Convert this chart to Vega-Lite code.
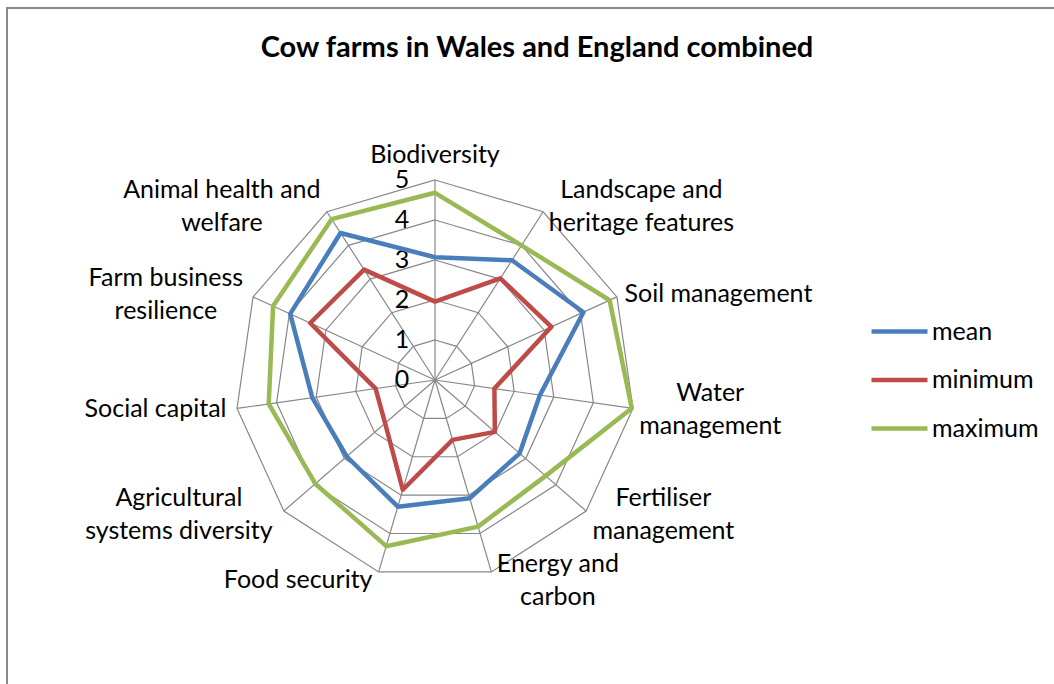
{
  "$schema": "https://vega.github.io/schema/vega-lite/v6.json",
  "autosize": "none",
  "width": 1060,
  "height": 690,
  "padding": {"left": 7, "top": 8, "right": 0, "bottom": 0},
  "background": "white",
  "config": {
    "view": {"stroke": "#8a8a8a", "strokeWidth": 2},
    "font": "Lato"
  },
  "title": {
    "text": "Cow farms in Wales and England combined",
    "font": "Lato",
    "fontSize": 29,
    "fontWeight": "bold",
    "color": "black",
    "anchor": "middle",
    "offset": -55
  },
  "datasets": {
    "series": [
      {"idx": 0, "cat": "Biodiversity", "series": "mean", "value": 3.07},
      {"idx": 1, "cat": "Landscape and heritage features", "series": "mean", "value": 3.56},
      {"idx": 2, "cat": "Soil management", "series": "mean", "value": 4.08},
      {"idx": 3, "cat": "Water management", "series": "mean", "value": 2.65},
      {"idx": 4, "cat": "Fertiliser management", "series": "mean", "value": 2.8},
      {"idx": 5, "cat": "Energy and carbon", "series": "mean", "value": 3.08},
      {"idx": 6, "cat": "Food security", "series": "mean", "value": 3.3},
      {"idx": 7, "cat": "Agricultural systems diversity", "series": "mean", "value": 2.92},
      {"idx": 8, "cat": "Social capital", "series": "mean", "value": 3.1},
      {"idx": 9, "cat": "Farm business resilience", "series": "mean", "value": 3.98},
      {"idx": 10, "cat": "Animal health and welfare", "series": "mean", "value": 4.37},
      {"idx": 0, "cat": "Biodiversity", "series": "minimum", "value": 1.96},
      {"idx": 1, "cat": "Landscape and heritage features", "series": "minimum", "value": 3.02},
      {"idx": 2, "cat": "Soil management", "series": "minimum", "value": 3.2},
      {"idx": 3, "cat": "Water management", "series": "minimum", "value": 1.5},
      {"idx": 4, "cat": "Fertiliser management", "series": "minimum", "value": 1.98},
      {"idx": 5, "cat": "Energy and carbon", "series": "minimum", "value": 1.56},
      {"idx": 6, "cat": "Food security", "series": "minimum", "value": 2.86},
      {"idx": 7, "cat": "Agricultural systems diversity", "series": "minimum", "value": 1.65},
      {"idx": 8, "cat": "Social capital", "series": "minimum", "value": 1.5},
      {"idx": 9, "cat": "Farm business resilience", "series": "minimum", "value": 3.43},
      {"idx": 10, "cat": "Animal health and welfare", "series": "minimum", "value": 3.28},
      {"idx": 0, "cat": "Biodiversity", "series": "maximum", "value": 4.68},
      {"idx": 1, "cat": "Landscape and heritage features", "series": "maximum", "value": 4.0},
      {"idx": 2, "cat": "Soil management", "series": "maximum", "value": 4.8},
      {"idx": 3, "cat": "Water management", "series": "maximum", "value": 4.97},
      {"idx": 4, "cat": "Fertiliser management", "series": "maximum", "value": 3.66},
      {"idx": 5, "cat": "Energy and carbon", "series": "maximum", "value": 3.82},
      {"idx": 6, "cat": "Food security", "series": "maximum", "value": 4.33},
      {"idx": 7, "cat": "Agricultural systems diversity", "series": "maximum", "value": 3.96},
      {"idx": 8, "cat": "Social capital", "series": "maximum", "value": 4.2},
      {"idx": 9, "cat": "Farm business resilience", "series": "maximum", "value": 4.45},
      {"idx": 10, "cat": "Animal health and welfare", "series": "maximum", "value": 4.78}
    ],
    "cats": [
      {"idx": 0, "label": ["Biodiversity"]},
      {"idx": 1, "label": ["Landscape and", "heritage features"]},
      {"idx": 2, "label": ["Soil management"]},
      {"idx": 3, "label": ["Water", "management"]},
      {"idx": 4, "label": ["Fertiliser", "management"]},
      {"idx": 5, "label": ["Energy and", "carbon"]},
      {"idx": 6, "label": ["Food security"]},
      {"idx": 7, "label": ["Agricultural", "systems diversity"]},
      {"idx": 8, "label": ["Social capital"]},
      {"idx": 9, "label": ["Farm business", "resilience"]},
      {"idx": 10, "label": ["Animal health and", "welfare"]}
    ],
    "rings": [
      {"level": 1, "idx": [0, 1, 2, 3, 4, 5, 6, 7, 8, 9, 10]},
      {"level": 2, "idx": [0, 1, 2, 3, 4, 5, 6, 7, 8, 9, 10]},
      {"level": 3, "idx": [0, 1, 2, 3, 4, 5, 6, 7, 8, 9, 10]},
      {"level": 4, "idx": [0, 1, 2, 3, 4, 5, 6, 7, 8, 9, 10]},
      {"level": 5, "idx": [0, 1, 2, 3, 4, 5, 6, 7, 8, 9, 10]}
    ],
    "ticks": [
      {"tick": 0}, {"tick": 1}, {"tick": 2}, {"tick": 3}, {"tick": 4}, {"tick": 5}
    ]
  },
  "layer": [
    {
      "data": {"name": "rings"},
      "transform": [
        {"flatten": ["idx"]},
        {"calculate": "datum.level * sin(datum.idx * 2 * PI / 11)", "as": "px"},
        {"calculate": "datum.level * cos(datum.idx * 2 * PI / 11)", "as": "py"}
      ],
      "mark": {"type": "line", "interpolate": "linear-closed", "stroke": "#878787", "strokeWidth": 1.2},
      "encoding": {
        "x": {"field": "px", "type": "quantitative", "scale": {"domain": [-10.7, 15.8], "nice": false, "zero": false}, "axis": null},
        "y": {"field": "py", "type": "quantitative", "scale": {"domain": [-7.95, 9.3], "nice": false, "zero": false}, "axis": null},
        "detail": {"field": "level", "type": "nominal"},
        "order": {"field": "idx", "type": "quantitative"}
      }
    },
    {
      "data": {"name": "cats"},
      "transform": [
        {"calculate": "5 * sin(datum.idx * 2 * PI / 11)", "as": "px"},
        {"calculate": "5 * cos(datum.idx * 2 * PI / 11)", "as": "py"},
        {"calculate": "0", "as": "ox"},
        {"calculate": "0", "as": "oy"}
      ],
      "mark": {"type": "rule", "stroke": "#878787", "strokeWidth": 1.2},
      "encoding": {
        "x": {"field": "ox", "type": "quantitative"},
        "y": {"field": "oy", "type": "quantitative"},
        "x2": {"field": "px"},
        "y2": {"field": "py"}
      }
    },
    {
      "data": {"name": "ticks"},
      "transform": [{"calculate": "0", "as": "ox"}],
      "mark": {"type": "text", "font": "Lato", "fontSize": 25, "color": "black", "align": "center", "baseline": "middle", "dx": -33},
      "encoding": {
        "x": {"field": "ox", "type": "quantitative"},
        "y": {"field": "tick", "type": "quantitative"},
        "text": {"field": "tick", "type": "quantitative"}
      }
    },
    {
      "data": {"name": "cats"},
      "transform": [
        {"calculate": "sin(datum.idx * 2 * PI / 11)", "as": "s"},
        {"calculate": "cos(datum.idx * 2 * PI / 11)", "as": "c"},
        {"calculate": "datum.label[0]", "as": "l0"},
        {"calculate": "peek(datum.label)", "as": "l1"},
        {"calculate": "0.52 * length(datum.l0) - 0.22 * (length(datum.l0) - length(replace(datum.l0, regexp('[iltfrIj ]', 'g'), ''))) + 0.32 * (length(datum.l0) - length(replace(datum.l0, regexp('[mwMW]', 'g'), '')))", "as": "w0"},
        {"calculate": "0.52 * length(datum.l1) - 0.22 * (length(datum.l1) - length(replace(datum.l1, regexp('[iltfrIj ]', 'g'), ''))) + 0.32 * (length(datum.l1) - length(replace(datum.l1, regexp('[mwMW]', 'g'), '')))", "as": "w1"},
        {"calculate": "max(datum.w0, datum.w1) * 25 / 2 / 40", "as": "hw"},
        {"calculate": "abs(datum.s) < 0.1 ? 0 : (datum.s > 0 ? 5 * datum.s + 0.175 + datum.hw : 5 * datum.s - 0.175 - datum.hw)", "as": "lx"},
        {"calculate": "(abs(datum.s) < 0.1 ? 5.62 : 5.15 * datum.c + (datum.c < -0.9 ? -0.07 : 0)) + (length(datum.label) - 1) * 0.4125", "as": "ly"}
      ],
      "mark": {"type": "text", "font": "Lato", "fontSize": 25, "color": "black", "align": "center", "baseline": "middle", "lineHeight": 33},
      "encoding": {
        "x": {"field": "lx", "type": "quantitative"},
        "y": {"field": "ly", "type": "quantitative"},
        "text": {"field": "label"}
      }
    },
    {
      "data": {"name": "series"},
      "transform": [
        {"calculate": "datum.value * sin(datum.idx * 2 * PI / 11)", "as": "px"},
        {"calculate": "datum.value * cos(datum.idx * 2 * PI / 11)", "as": "py"}
      ],
      "mark": {"type": "line", "interpolate": "linear-closed", "strokeWidth": 4.5, "strokeJoin": "round", "strokeCap": "round"},
      "encoding": {
        "x": {"field": "px", "type": "quantitative"},
        "y": {"field": "py", "type": "quantitative"},
        "color": {
          "field": "series",
          "type": "nominal",
          "scale": {"domain": ["mean", "minimum", "maximum"], "range": ["#4A7EBB", "#BE4B48", "#98B954"]},
          "legend": {
            "orient": "none",
            "legendX": 862,
            "legendY": 293,
            "title": null,
            "symbolType": "stroke",
            "symbolSize": 3136,
            "symbolStrokeWidth": 4.5,
            "labelFont": "Lato",
            "labelFontSize": 25,
            "labelColor": "black",
            "labelOffset": 2,
            "rowPadding": 4.5
          }
        },
        "order": {"field": "idx", "type": "quantitative"}
      }
    }
  ]
}
